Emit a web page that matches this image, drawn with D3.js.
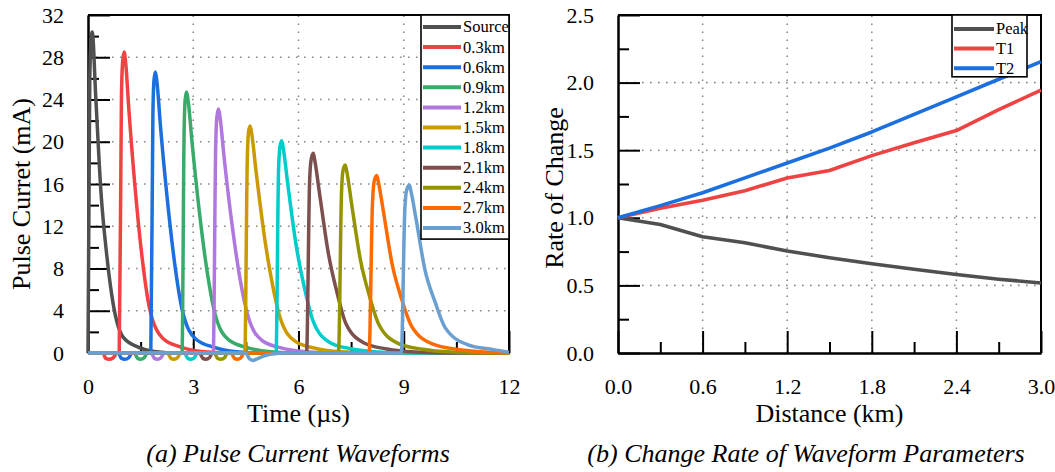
<!DOCTYPE html>
<html>
<head>
<meta charset="utf-8">
<script src="https://cdn.jsdelivr.net/npm/d3@7"></script>
<style>
  body { margin: 0; background: #fff; }
  svg text { font-family: "Liberation Serif", "Times New Roman", serif; fill: #000; }
</style>
</head>
<body>
<svg id="chart" width="1055" height="472"></svg>
<script>
// ---------------- data ----------------

// (a) waveforms, [time us, current mA]
const waveNames = ["Source", "0.3km", "0.6km", "0.9km", "1.2km", "1.5km", "1.8km", "2.1km", "2.4km", "2.7km", "3.0km"];
const waveColors = ["#505050", "#ef4343", "#1b6fdf", "#38ab6b", "#b077de", "#cc9a00", "#00cccc", "#7d4f4f", "#949400", "#ff6a00", "#6a9fd2"];

const waveSource = [[0,0],[0.05,25.8],[0.085,29.5],[0.12,30.4],[0.22,24.3],[0.37,15.2],[0.54,9.1],[0.72,4.6],[1.0,1.5],[1.4,0.6],[1.88,0.15],[2.6,0],[12,0]];
const wave03 = [[0,0],[0.43,0],[0.5,-0.5],[0.6,-0.6],[0.72,-0.45],[0.83,0],[0.89,0],[0.953,24.2],[0.988,27.6],[1.03,28.5],[1.07,27.6],[1.17,22.8],[1.38,14.25],[1.56,8.55],[1.75,4.3],[2.13,1.4],[2.63,0.57],[3.23,0.14],[4.0,0],[12,0]];
const wave06 = [[0,0],[0.86,0],[0.95,-0.5],[1.05,-0.6],[1.16,-0.45],[1.26,0],[1.79,0],[1.85,22.6],[1.88,25.8],[1.92,26.6],[1.96,25.8],[2.07,21.3],[2.30,13.3],[2.49,8.0],[2.69,4.0],[3.07,1.33],[3.6,0.53],[4.22,0.13],[5.0,0],[12,0]];
const wave09 = [[0,0],[1.32,0],[1.41,-0.5],[1.5,-0.6],[1.6,-0.45],[1.7,0],[2.68,0],[2.74,21],[2.77,24],[2.81,24.7],[2.85,24],[2.97,19.8],[3.21,12.35],[3.41,7.4],[3.62,3.7],[4.01,1.24],[4.56,0.49],[5.21,0.12],[6.0,0],[12,0]];
const wave12 = [[0,0],[1.8,0],[1.89,-0.5],[1.98,-0.6],[2.08,-0.45],[2.17,0],[3.57,0],[3.64,19.6],[3.675,22.4],[3.72,23.1],[3.76,22.4],[3.88,18.5],[4.13,11.55],[4.34,6.9],[4.56,3.5],[4.97,1.16],[5.53,0.46],[6.22,0.12],[7.0,0],[12,0]];
const wave15 = [[0,0],[2.27,0],[2.36,-0.5],[2.45,-0.6],[2.55,-0.45],[2.64,0],[4.47,0],[4.54,18.3],[4.575,20.9],[4.62,21.5],[4.66,20.9],[4.79,17.2],[5.04,10.75],[5.26,6.45],[5.49,3.2],[5.92,1.08],[6.5,0.43],[7.22,0.11],[8.1,0],[12,0]];
const wave18 = [[0,0],[2.75,0],[2.84,-0.5],[2.93,-0.6],[3.03,-0.45],[3.12,0],[5.36,0],[5.43,17.1],[5.47,19.5],[5.52,20.1],[5.56,19.5],[5.69,16.1],[5.94,10.05],[6.18,6.0],[6.42,3.0],[6.89,1.0],[7.5,0.4],[8.26,0.1],[9.2,0],[12,0]];
const wave21 = [[0,0],[3.18,0],[3.27,-0.5],[3.36,-0.6],[3.46,-0.45],[3.55,0],[6.23,0],[6.315,16.1],[6.36,18.3],[6.42,18.9],[6.46,18.3],[6.60,15.1],[6.85,9.45],[7.10,5.7],[7.35,2.8],[7.87,0.95],[8.52,0.38],[9.32,0.09],[10.3,0],[12,0]];
const wave24 = [[0,0],[3.6,0],[3.69,-0.5],[3.79,-0.6],[3.89,-0.45],[3.98,0],[7.14,0],[7.225,15.1],[7.27,17.3],[7.33,17.8],[7.37,17.3],[7.51,14.2],[7.76,8.9],[8.03,5.3],[8.29,2.7],[8.85,0.89],[9.53,0.36],[10.37,0.09],[11.4,0],[12,0]];
const wave27 = [[0,0],[4.08,0],[4.17,-0.5],[4.26,-0.6],[4.36,-0.45],[4.45,0],[8.01,0],[8.11,14.3],[8.16,16.3],[8.23,16.8],[8.27,16.3],[8.42,13.4],[8.67,8.4],[8.95,5.0],[9.23,2.5],[9.83,0.84],[10.55,0.34],[11.43,0.08],[12,0.02]];
const wave30 = [[0,0],[4.5,0],[4.6,-0.55],[4.7,-0.7],[4.85,-0.5],[5.05,-0.25],[5.3,-0.08],[5.6,0],[8.93,0],[9.03,13.5],[9.08,15.4],[9.16,15.9],[9.2,15.4],[9.35,12.7],[9.60,7.95],[9.90,4.77],[10.18,2.4],[10.81,0.8],[11.55,0.32],[12,0.08]];

const waves = [waveSource, wave03, wave06, wave09, wave12, wave15, wave18, wave21, wave24, wave27, wave30];

const timeTicks = [0, 3, 6, 9, 12];
const timeMinor = [1.5, 4.5, 7.5, 10.5];
const currentTicks = [0, 4, 8, 12, 16, 20, 24, 28, 32];
const currentMinor = [2, 6, 10, 14, 18, 22, 26, 30];

// (b) change rate vs distance
const distances = [0, 0.3, 0.6, 0.9, 1.2, 1.5, 1.8, 2.1, 2.4, 2.7, 3.0];
const peakRate = [1.0, 0.95, 0.86, 0.815, 0.755, 0.705, 0.66, 0.62, 0.58, 0.546, 0.518];
const t1Rate = [1.0, 1.07, 1.13, 1.20, 1.295, 1.35, 1.46, 1.555, 1.645, 1.80, 1.945];
const t2Rate = [1.0, 1.09, 1.185, 1.295, 1.405, 1.515, 1.635, 1.765, 1.895, 2.025, 2.155];
const rateNames = ["Peak", "T1", "T2"];
const rateColors = ["#505050", "#ef4343", "#1b6fdf"];

const distTicks = [0, 0.6, 1.2, 1.8, 2.4, 3.0];
const distMinor = [0.3, 0.9, 1.5, 2.1, 2.7];
const rateTicks = [0, 0.5, 1.0, 1.5, 2.0, 2.5];
const rateMinor = [0.25, 0.75, 1.25, 1.75, 2.25];

// ---------------- drawing ----------------
let svg = d3.select("#chart");
const plotTop = 15, plotBottom = 353;

// frame, grid and inward ticks for one panel
function drawFrame(x, y, xT, xM, yT, yM, fx, fy) {
    let g = svg.append("g");
    let [x0, x1] = x.range();

    // dotted grid at the inner major ticks
    g.selectAll(".vgrid").data(xT.slice(1, -1)).join("line")
        .attr("x1", d => x(d)).attr("x2", d => x(d))
        .attr("y1", plotBottom).attr("y2", plotTop)
        .attr("stroke", "#8a8a8a").attr("stroke-width", 1.6)
        .attr("stroke-dasharray", "1.6,6.4");
    g.selectAll(".hgrid").data(yT.slice(1, -1)).join("line")
        .attr("y1", d => y(d)).attr("y2", d => y(d))
        .attr("x1", x0).attr("x2", x1)
        .attr("stroke", "#8a8a8a").attr("stroke-width", 1.6)
        .attr("stroke-dasharray", "1.6,6.4");

    g.append("g").attr("transform", `translate(0,${plotBottom})`)
        .call(d3.axisBottom(x).tickValues(xM).tickSize(-11).tickSizeOuter(0).tickFormat(""));
    g.append("g").attr("transform", `translate(0,${plotBottom})`)
        .call(d3.axisBottom(x).tickValues(xT).tickSize(-22).tickSizeOuter(0).tickPadding(25).tickFormat(fx));
    g.append("g").attr("transform", `translate(${x0},0)`)
        .call(d3.axisLeft(y).tickValues(yM).tickSize(-11).tickSizeOuter(0).tickFormat(""));
    g.append("g").attr("transform", `translate(${x0},0)`)
        .call(d3.axisLeft(y).tickValues(yT).tickSize(-22).tickSizeOuter(0).tickPadding(24).tickFormat(fy));

    g.selectAll(".domain").attr("stroke", "#000").attr("stroke-width", 2);
    g.selectAll(".tick line").attr("stroke", "#000").attr("stroke-width", 2);
    g.selectAll(".tick text").style("font-size", "22px").style("font-family", '"Liberation Serif", serif');

    // top and right border
    g.append("path")
        .attr("d", `M${x0},${plotTop}H${x1}V${plotBottom}`)
        .attr("fill", "none").attr("stroke", "#000").attr("stroke-width", 2);
    return g;
}

function drawLegend(names, colors, bx, bw, rowY, rowH, lineLen) {
    let lg = svg.append("g");
    lg.append("rect")
        .attr("x", bx).attr("y", plotTop)
        .attr("width", bw).attr("height", rowH * names.length + 3)
        .attr("fill", "#fff").attr("stroke", "#000").attr("stroke-width", 1.6);
    let row = lg.selectAll(".row").data(names).join("g")
        .attr("transform", (d, i) => `translate(${bx + 2},${rowY + i * rowH})`);
    row.append("line").attr("x1", 0).attr("x2", lineLen)
        .attr("stroke", (d, i) => colors[i]).attr("stroke-width", 4);
    row.append("text").attr("x", lineLen + 2).attr("dy", "0.33em")
        .style("font-size", "16.5px").text(d => d);
}

// ----- (a) pulse current waveforms
let xA = d3.scaleLinear().domain([0, 12]).range([88, 509]);
let yA = d3.scaleLinear().domain([0, 32]).range([plotBottom, plotTop]);
drawFrame(xA, yA, timeTicks, timeMinor, currentTicks, currentMinor, d3.format("d"), d3.format("d"));

let waveLine = d3.line().x(d => xA(d[0])).y(d => yA(d[1])).curve(d3.curveMonotoneX);
svg.append("g").selectAll("path").data(waves).join("path")
    .attr("d", waveLine)
    .attr("fill", "none")
    .attr("stroke", (d, i) => waveColors[i])
    .attr("stroke-width", 3.5)
    .attr("stroke-linejoin", "round");

drawLegend(waveNames, waveColors, 421, 88, 27, 20.1, 38);

svg.append("text").attr("x", 298.5).attr("y", 422).attr("text-anchor", "middle")
    .style("font-size", "26px").text("Time (\u00b5s)");
svg.append("text").attr("transform", "translate(30,194) rotate(-90)").attr("text-anchor", "middle")
    .style("font-size", "26px").text("Pulse Curret (mA)");
svg.append("text").attr("x", 298).attr("y", 462).attr("text-anchor", "middle")
    .style("font-size", "26px").style("font-style", "italic").text("(a) Pulse Current Waveforms");

// ----- (b) change rate of waveform parameters
let xB = d3.scaleLinear().domain([0, 3]).range([618, 1041]);
let yB = d3.scaleLinear().domain([0, 2.5]).range([plotBottom, plotTop]);
drawFrame(xB, yB, distTicks, distMinor, rateTicks, rateMinor, d3.format(".1f"), d3.format(".1f"));

let rateSeries = [peakRate, t1Rate, t2Rate];
let rateLine = d3.line().x((d, i) => xB(distances[i])).y(d => yB(d));
svg.append("g").selectAll("path").data(rateSeries).join("path")
    .attr("d", rateLine)
    .attr("fill", "none")
    .attr("stroke", (d, i) => rateColors[i])
    .attr("stroke-width", 3.6)
    .attr("stroke-linejoin", "round");

drawLegend(rateNames, rateColors, 952, 75, 29, 19.6, 40);

svg.append("text").attr("x", 829.5).attr("y", 422).attr("text-anchor", "middle")
    .style("font-size", "26px").text("Distance (km)");
svg.append("text").attr("transform", "translate(563,188) rotate(-90)").attr("text-anchor", "middle")
    .style("font-size", "26px").text("Rate of Change");
svg.append("text").attr("x", 806).attr("y", 462).attr("text-anchor", "middle")
    .style("font-size", "26px").style("font-style", "italic").text("(b) Change Rate of Waveform Parameters");
</script>
</body>
</html>
